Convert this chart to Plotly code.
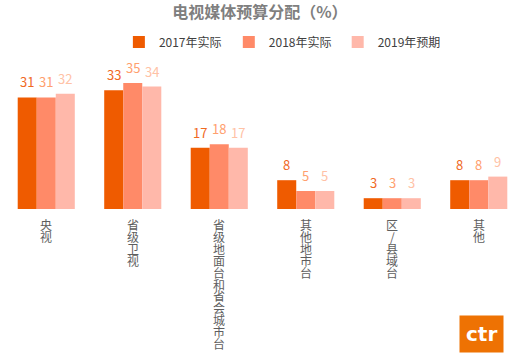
import plotly.graph_objects as go

categories = ["央视", "省级卫视", "省级地面台和省会城市台", "其他地市台", "区/县域台", "其他"]
series_names = ["2017年实际", "2018年实际", "2019年预期"]
v2017 = [31, 33, 17, 8, 3, 8]
v2018 = [31, 35, 18, 5, 3, 8]
v2019 = [32, 34, 17, 5, 3, 9]

bar_colors = ["#EF5B00", "#FF8A68", "#FFB8AA"]
label_colors = ["#F06A1F", "#FFA06E", "#FFC2A6"]
FONT = "Noto Sans CJK SC, Noto Sans, sans-serif"

series = [v2017, v2018, v2019]
legend_ids = ["legend", "legend2", "legend3"]
legend_x = [0.226, 0.435, 0.642]

fig = go.Figure()
for name, vals, bc, lid in zip(series_names, series, bar_colors, legend_ids):
    fig.add_trace(go.Bar(
        x=categories, y=vals, name=name, legend=lid,
        marker=dict(color=bc, line=dict(width=0)),
    ))

legend_style = dict(orientation="h", xref="container", xanchor="left", y=0.881, yref="container",
                    yanchor="middle", font=dict(size=12, color="#404040", family=FONT),
                    itemwidth=30, bgcolor="rgba(0,0,0,0)")
fig.update_layout(
    width=526, height=353,
    margin=dict(l=3, r=4, t=65, b=144, autoexpand=False),
    paper_bgcolor="white", plot_bgcolor="white",
    barmode="group", bargap=0.34, bargroupgap=0,
    font=dict(family=FONT, color="#404040"),
    title=dict(text="<b>电视媒体预算分配（%）</b>", x=0.494, xanchor="center", y=0.965, yanchor="middle",
               font=dict(size=16, color="#7F7F7F", family=FONT)),
    legend=dict(x=legend_x[0], **legend_style),
    legend2=dict(x=legend_x[1], **legend_style),
    legend3=dict(x=legend_x[2], **legend_style),
    showlegend=True,
)
fig.update_xaxes(showticklabels=False, showgrid=False, showline=False, ticks="", automargin=False)
fig.update_yaxes(range=[0, 40], visible=False, showgrid=False, automargin=False)

# value labels above each bar (bar width ~19px inside a group)
for j, (vals, lc) in enumerate(zip(series, label_colors)):
    for cat, v in zip(categories, vals):
        fig.add_annotation(text=str(v), x=cat, xref="x", y=v, yref="y",
                           xanchor="center", yanchor="bottom", xshift=(j - 1) * 19.2, yshift=4,
                           showarrow=False, font=dict(size=13, color=lc, family=FONT))

# vertical stacked category labels, one character per line
for cat in categories:
    for i, ch in enumerate(cat):
        fig.add_annotation(text=ch, x=cat, xref="x", y=0, yref="y",
                           xanchor="center", yanchor="top", yshift=-5 - i * 11.9,
                           showarrow=False,
                           font=dict(size=12, color="#5E5E5E", family=FONT))

# logo
fig.add_annotation(text="<b>ctr</b>", xref="paper", yref="paper", x=1.0, y=-1.0,
                   xanchor="right", yanchor="bottom", xshift=-18, yshift=0,
                   showarrow=False, font=dict(size=20, color="white", family="DejaVu Sans"),
                   bgcolor="#EE7203", borderpad=6)

fig.write_html("out.html")
